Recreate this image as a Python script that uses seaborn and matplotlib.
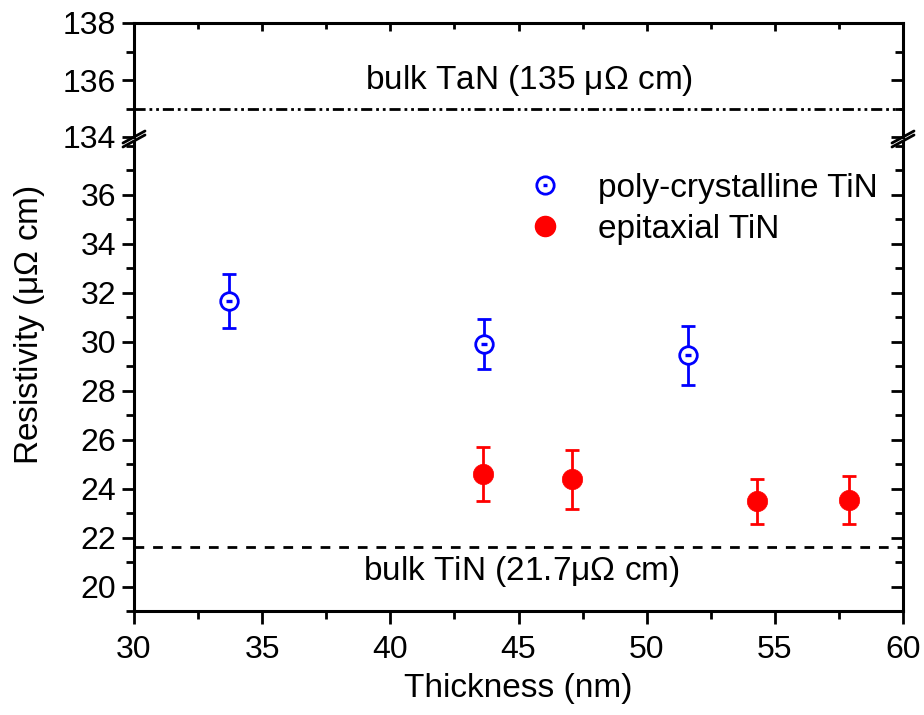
import numpy as np
import pandas as pd
import matplotlib.pyplot as plt
import matplotlib.lines as mlines
import seaborn as sns

# data
poly_thick = [33.7, 43.65, 51.6]
poly_rho = [31.67, 29.92, 29.44]
poly_err = [1.1, 1.02, 1.2]

epi_thick = [43.6, 47.1, 54.3, 57.9]
epi_rho = [24.61, 24.38, 23.48, 23.52]
epi_err = [1.1, 1.2, 0.93, 0.98]

bulk_tin = 21.6
bulk_tan = 135.0

BLUE = '#0000ff'
RED = '#ff0000'

sns.set_style('ticks')
plt.rcParams['font.family'] = ['Liberation Sans', 'DejaVu Sans']
plt.rcParams['mathtext.default'] = 'regular'
for k in ('text.color', 'axes.labelcolor', 'xtick.color', 'ytick.color', 'axes.edgecolor'):
    plt.rcParams[k] = 'black'

W, H = 924, 715
fig = plt.figure(figsize=(W / 100, H / 100), dpi=100)


def fx(px):
    return px / W


def fy(px):
    return 1 - px / H


left_px, right_px = 134, 903
top_px, brk_top, brk_bot, bot_px = 23, 137, 141, 611
ax_top = fig.add_axes([fx(left_px), fy(brk_top), fx(right_px - left_px), (brk_top - top_px) / H])
ax_bot = fig.add_axes([fx(left_px), fy(bot_px), fx(right_px - left_px), (bot_px - brk_bot) / H])

df_poly = pd.DataFrame({'t': poly_thick, 'r': poly_rho, 'e': poly_err})
df_epi = pd.DataFrame({'t': epi_thick, 'r': epi_rho, 'e': epi_err})

# error bars
ax_bot.errorbar(df_poly['t'], df_poly['r'], yerr=df_poly['e'], fmt='none', ecolor=BLUE,
                elinewidth=2, capsize=4.8, capthick=2, zorder=2)
ax_bot.errorbar(df_epi['t'], df_epi['r'], yerr=df_epi['e'], fmt='none', ecolor=RED,
                elinewidth=2, capsize=4.8, capthick=2, zorder=2)

# markers
sns.scatterplot(data=df_poly, x='t', y='r', ax=ax_bot, marker='o', s=160, facecolor='white',
                edgecolor=BLUE, linewidth=2, zorder=3, legend=False)
sns.scatterplot(data=df_poly, x='t', y='r', ax=ax_bot, marker='_', s=14, color=BLUE,
                linewidth=2.4, zorder=4, legend=False)
sns.scatterplot(data=df_epi, x='t', y='r', ax=ax_bot, marker='o', s=215, color=RED,
                edgecolor=RED, linewidth=0.5, zorder=3, legend=False)

# reference lines
ax_bot.axhline(bulk_tin, color='black', lw=2, dashes=(3.5, 3.2), zorder=1)
ax_top.axhline(bulk_tan, color='black', lw=2, dashes=(4, 1.4, 1, 1.4, 1, 1.4), zorder=1)

ax_top.text(45.4, 136.0, 'bulk TaN (135 $\\mu\\Omega$ cm)', ha='center', va='center', fontsize=24)
ax_bot.text(45.1, 20.6, 'bulk TiN (21.7$\\mu\\Omega$ cm)', ha='center', va='center', fontsize=24)

# limits / ticks
for ax in (ax_top, ax_bot):
    ax.set_xlim(30, 60)
    ax.set_xlabel('')
    ax.set_ylabel('')
    for sp in ax.spines.values():
        sp.set_linewidth(2.2)
    ax.tick_params(axis='both', which='major', labelsize=23, width=2, length=9)
    ax.tick_params(axis='both', which='minor', width=2, length=5.5)

ax_top.set_ylim(134, 138)
ax_top.set_yticks([134, 136, 138])
ax_top.set_yticks([135, 137], minor=True)
ax_top.spines['bottom'].set_visible(False)
ax_top.tick_params(axis='x', which='both', bottom=False, labelbottom=False,
                   top=True, direction='in', length=6)
ax_top.set_xticks(np.arange(30, 61, 5))
ax_top.set_xticks(np.arange(32.5, 60, 5), minor=True)
ax_top.tick_params(axis='x', which='minor', top=True, direction='in', length=4)

ax_bot.set_ylim(19, 38.2)
ax_bot.set_yticks(np.arange(20, 37, 2))
ax_bot.set_yticks(np.arange(19, 38.1, 1), minor=True)
ax_bot.spines['top'].set_visible(False)
ax_bot.set_xticks(np.arange(30, 61, 5))
ax_bot.set_xticks(np.arange(32.5, 60, 5), minor=True)
ax_bot.tick_params(axis='x', which='major', pad=8)
ax_bot.set_xlabel('Thickness (nm)', fontsize=24, labelpad=6)

for ax in (ax_top, ax_bot):
    ax.tick_params(axis='y', which='both', right=True, direction='out', pad=4)
    # right side ticks point inward
    for t in ax.yaxis.get_major_ticks() + ax.yaxis.get_minor_ticks():
        t.tick2line.set_marker(mlines.TICKLEFT)

fig.text(fx(30), fy(325), 'Resistivity ($\\mu\\Omega$ cm)', rotation=90, ha='center',
         va='center', fontsize=24)

# axis break marks
for xp in (left_px, right_px):
    for yp in (brk_top, brk_bot):
        fig.add_artist(mlines.Line2D([fx(xp - 11), fx(xp + 11)], [fy(yp + 6), fy(yp - 6)],
                                     color='black', lw=2, transform=fig.transFigure))

# legend
h_poly = (mlines.Line2D([], [], ls='none', marker='o', ms=12.5, mfc='white', mec=BLUE, mew=2),
          mlines.Line2D([], [], ls='none', marker='_', ms=3.5, mec=BLUE, mew=2.4))
h_epi = mlines.Line2D([], [], ls='none', marker='o', ms=14.5, mfc=RED, mec=RED)
ax_bot.legend([h_poly, h_epi], ['poly-crystalline TiN', 'epitaxial TiN'], loc='upper left',
              bbox_to_anchor=(0.491, 0.96), frameon=False, fontsize=24, handlelength=1.2,
              handletextpad=1.0, labelspacing=0.3, borderaxespad=0)

fig.savefig('out.png', dpi=100)
